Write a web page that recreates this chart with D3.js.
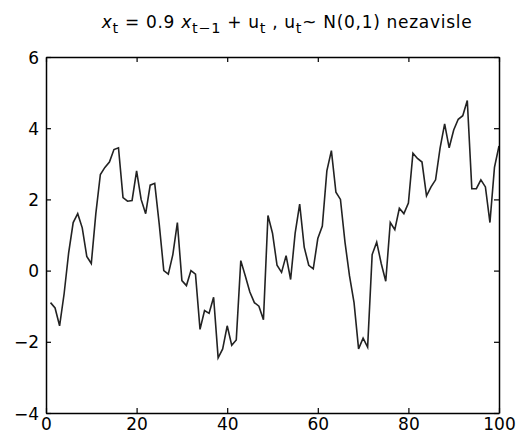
<!DOCTYPE html>
<html>
<head>
<meta charset="utf-8">
<script src="https://cdn.jsdelivr.net/npm/d3@7"></script>
<style>
  html, body { margin: 0; padding: 0; background: #fff; }
  svg { display: block; }
  text { font-family: "DejaVu Sans", "Liberation Sans", Arial, sans-serif; fill: #000; }
</style>
</head>
<body>
<svg id="chart" width="520" height="442"></svg>
<script>
// ---- data ----
const series = [
  -0.9, -1.05, -1.55, -0.65, 0.5, 1.35, 1.6, 1.2, 0.4, 0.2,
  1.6, 2.7, 2.9, 3.05, 3.4, 3.45, 2.05, 1.95, 1.97, 2.8,
  2.0, 1.6, 2.4, 2.45, 1.3, 0.0, -0.1, 0.45, 1.35, -0.28,
  -0.42, 0.0, -0.1, -1.65, -1.12, -1.2, -0.75, -2.45, -2.2, -1.55,
  -2.1, -1.95, 0.28, -0.15, -0.6, -0.9, -1.0, -1.38, 1.55, 1.05,
  0.15, -0.05, 0.42, -0.25, 1.05, 1.87, 0.66, 0.15, 0.05, 0.9,
  1.25, 2.8, 3.37, 2.2, 2.0, 0.8, -0.15, -0.9, -2.2, -1.9,
  -2.15, 0.45, 0.8, 0.2, -0.3, 1.35, 1.15, 1.75, 1.6, 1.9,
  3.3, 3.15, 3.05, 2.1, 2.35, 2.55, 3.45, 4.12, 3.45, 3.95,
  4.25, 4.35, 4.78, 2.3, 2.3, 2.55, 2.35, 1.35, 2.9, 3.5
];
const xTicks = [0, 20, 40, 60, 80, 100];
const yTicks = [-4, -2, 0, 2, 4, 6];
const xDomain = [0, 100];
const yDomain = [-4, 6];
const titleParts = [
  {t: "x", style: "italic"}, {t: "t", sub: true}, {t: " = 0.9 "},
  {t: "x", style: "italic"}, {t: "t\u22121", sub: true}, {t: " + u"}, {t: "t", sub: true},
  {t: " ,  u"}, {t: "t", sub: true}, {t: "~ N(0,1) nezavisle"}
];

// ---- layout ----
const svg = d3.select("#chart");
const L = 46, R = 499, T = 57, B = 413;
const xs = d3.scaleLinear().domain(xDomain).range([L, R]);
const ys = d3.scaleLinear().domain(yDomain).range([B, T]);
const tickLen = 5;
const fs = 17;

// line
const line = d3.line().x((d, i) => xs(i + 1)).y(d => ys(d));
svg.append("path")
  .datum(series)
  .attr("d", line)
  .attr("fill", "none")
  .attr("stroke", "#222")
  .attr("stroke-width", 1.6)
  .attr("stroke-linejoin", "miter");

// axes (inward ticks on all four sides)
const fmt = d3.format("");
const gBottom = svg.append("g").attr("transform", `translate(0,${B})`)
  .call(d3.axisBottom(xs).tickValues(xTicks).tickFormat(fmt).tickSizeInner(-tickLen).tickSizeOuter(0));
const gTop = svg.append("g").attr("transform", `translate(0,${T})`)
  .call(d3.axisTop(xs).tickValues(xTicks).tickFormat("").tickSizeInner(-tickLen).tickSizeOuter(0));
const gLeft = svg.append("g").attr("transform", `translate(${L},0)`)
  .call(d3.axisLeft(ys).tickValues(yTicks).tickFormat(fmt).tickSizeInner(-tickLen).tickSizeOuter(0));
const gRight = svg.append("g").attr("transform", `translate(${R},0)`)
  .call(d3.axisRight(ys).tickValues(yTicks).tickFormat("").tickSizeInner(-tickLen).tickSizeOuter(0));

[gBottom, gTop, gLeft, gRight].forEach(g => {
  g.select(".domain").attr("stroke", "#000").attr("stroke-width", 1.5);
  g.selectAll(".tick line").attr("stroke", "#000").attr("stroke-width", 1.2);
  g.selectAll(".tick text").attr("font-size", fs).attr("fill", "#000")
    .attr("font-family", "DejaVu Sans, Liberation Sans, Arial, sans-serif");
});
gBottom.selectAll(".tick text").attr("y", 17).attr("dy", 0);
gLeft.selectAll(".tick text").attr("x", -7).attr("dy", "0.36em");

// title
const title = svg.append("text")
  .attr("x", 287)
  .attr("y", 28)
  .attr("text-anchor", "middle")
  .attr("letter-spacing", 0.7)
  .attr("font-size", fs);
titleParts.forEach(p => {
  const ts = title.append("tspan").text(p.t);
  if (p.style) ts.attr("font-style", p.style);
  if (p.sub) {
    ts.attr("baseline-shift", "-35%").attr("font-size", fs * 0.85);
  }
});
</script>
</body>
</html>
